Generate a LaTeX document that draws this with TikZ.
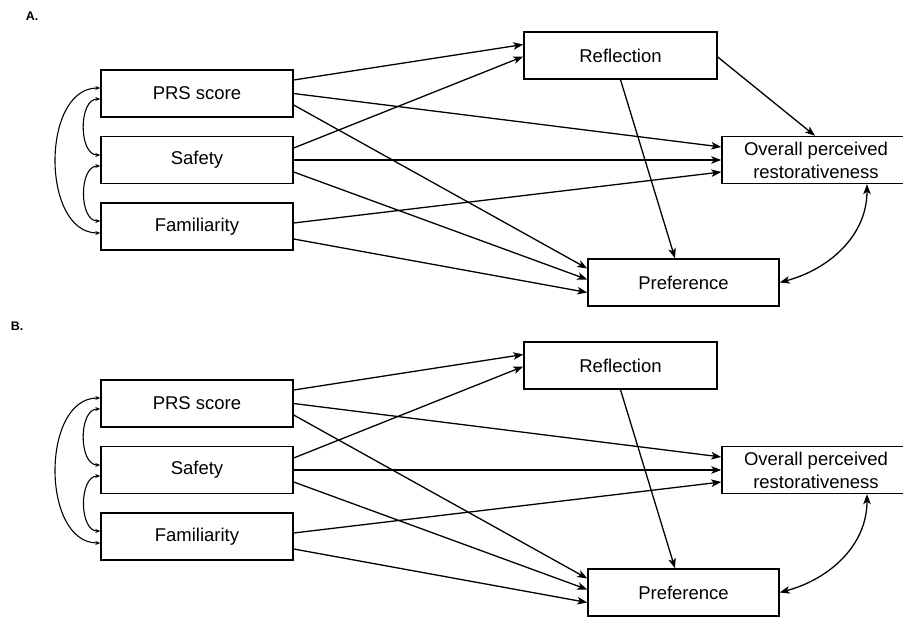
\documentclass[tikz,border=0pt]{standalone}
\usepackage{fontspec}
\setmainfont{Liberation Sans}
\usetikzlibrary{arrows.meta}

\begin{document}
\begin{tikzpicture}[
		x=1pt, y=-1pt
		,box/.style={draw, line width=1.4pt, minimum width=192pt, minimum height=47pt, inner sep=0pt, align=center, font=\fontsize{18.5}{23}\selectfont}
		,arr/.style={line width=1.3pt, -{Stealth[length=10pt,width=7.5pt,inset=2.5pt]}}
		,twoway/.style={line width=1.3pt, {Stealth[length=10pt,width=7.5pt,inset=2.5pt]}-{Stealth[length=10pt,width=7.5pt,inset=2.5pt]}}
		,cov/.style={line width=1.1pt, {Stealth[length=5pt,width=4pt]}-{Stealth[length=5pt,width=4pt]}}
		,lbl/.style={font=\fontsize{12.5}{14}\selectfont\bfseries}
	]
	\useasboundingbox (0,0) rectangle (903,617);
	\foreach \p/\dy/\lx in {A/0/32,B/310/17} {
		\node [lbl] (lab\p) at (\lx,16+\dy) {\p.};
		% predictors
		\node [box] (prs\p) at (197,93.5+\dy) {PRS score};
		\node [box] (saf\p) at (197,160+\dy) {Safety};
		\node [box] (fam\p) at (197,226.5+\dy) {Familiarity};
		% outcomes
		\node [box, minimum width=193pt] (ref\p) at (620.5,55.5+\dy) {Reflection};
		\node [box, minimum width=188pt] (ovr\p) at (816,160+\dy) {Overall perceived\\restorativeness};
		\node [box, minimum width=191pt] (pref\p) at (683.5,282.5+\dy) {Preference};
		% covariances
		\draw [cov] ([yshift=5.5pt]prs\p.west) to[out=180,in=180,looseness=1.05] ([yshift=-6.5pt]fam\p.west);
		\draw [cov] ([yshift=-5.5pt]prs\p.west) to[out=180,in=180] ([yshift=5pt]saf\p.west);
		\draw [cov] ([yshift=-6pt]saf\p.west) to[out=180,in=180] ([yshift=5.5pt]fam\p.west);
		% paths
		\draw [arr] ([yshift=13.5pt]prs\p.east) -- ([yshift=11pt]ref\p.west);
		\draw [arr] (prs\p.east) -- ([yshift=13pt]ovr\p.west);
		\draw [arr] ([yshift=-11.5pt]prs\p.east) -- ([yshift=14pt]pref\p.west);
		\draw [arr] ([yshift=12pt]saf\p.east) -- ([yshift=-1pt]ref\p.west);
		\draw [arr] (saf\p.east) -- (ovr\p.west);
		\draw [arr] ([yshift=-12pt]saf\p.east) -- ([yshift=3pt]pref\p.west);
		\draw [arr] ([yshift=3.5pt]fam\p.east) -- ([yshift=-12pt]ovr\p.west);
		\draw [arr] ([yshift=-12.5pt]fam\p.east) -- ([yshift=-10pt]pref\p.west);
		\draw [arr] (ref\p.south) -- ([xshift=-8.5pt]pref\p.north);
		\draw [twoway] (pref\p.east) to[out=15,in=-90] ([xshift=51pt]ovr\p.south);
	}
	% only in model A
	\draw [arr] ([yshift=-1.5pt]refA.east) -- ([xshift=-1pt]ovrA.north);
\end{tikzpicture}
\end{document}
